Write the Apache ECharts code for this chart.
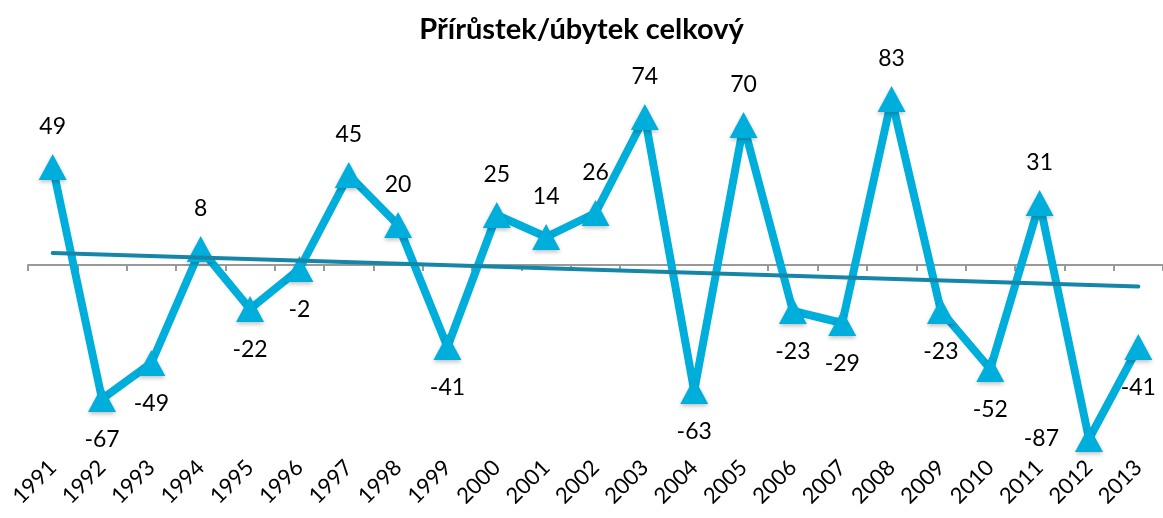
<!DOCTYPE html>
<html>
<head>
<meta charset="utf-8">
<script src="https://cdn.jsdelivr.net/npm/echarts@6.0.0/dist/echarts.min.js"></script>
<style>
  html, body { margin: 0; padding: 0; background: #fff; }
  #chart { width: 1163px; height: 518px; }
</style>
</head>
<body>
<div id="chart"></div>
<script>
// roky a hodnoty přírůstku/úbytku
const years = ['1991', '1992', '1993', '1994', '1995', '1996', '1997', '1998', '1999', '2000',
  '2001', '2002', '2003', '2004', '2005', '2006', '2007', '2008', '2009', '2010',
  '2011', '2012', '2013'];
const values = [49, -67, -49, 8, -22, -2, 45, 20, -41, 25, 14, 26, 74, -63, 70, -23, -29, 83, -23, -52, 31, -87, -41];
// konce lineárního trendu
const trendEnds = [6.0, -10.7];

const trend = years.map((y, i) => i === 0 ? trendEnds[0] : (i === years.length - 1 ? trendEnds[1] : null));

const font = 'Lato, "Open Sans", "Liberation Sans", sans-serif';

const chart = echarts.init(document.getElementById('chart'));
chart.setOption({
  animation: false,
  title: {
    text: 'Přírůstek/úbytek celkový',
    left: 'center',
    top: 10,
    textStyle: { fontFamily: font, fontSize: 29, fontWeight: 'bold', color: '#000' }
  },
  grid: { left: 28, top: 65, width: 1138, height: 400 },
  xAxis: [
    {
      type: 'category',
      data: years,
      boundaryGap: true,
      axisLine: { onZero: true, lineStyle: { color: '#999', width: 2 } },
      axisTick: { show: true, length: 6, lineStyle: { color: '#999', width: 2 } },
      axisLabel: { show: false }
    },
    {
      type: 'category',
      data: years,
      position: 'bottom',
      offset: -5,
      boundaryGap: true,
      axisLine: { show: false, onZero: false },
      axisTick: { show: false },
      axisLabel: {
        interval: 0,
        rotate: 45,
        margin: 4,
        fontFamily: font,
        fontSize: 22,
        color: '#000'
      }
    }
  ],
  yAxis: {
    type: 'value',
    min: -100,
    max: 100,
    show: false,
    splitLine: { show: false }
  },
  series: [
    {
      type: 'line',
      z: 3,
      data: values.map((v, i) => ({
        value: v,
        label: { position: v < 0 ? (i === 21 ? 'left' : 'bottom') : 'top' }
      })),
      lineStyle: { color: '#00AEDB', width: 8 },
      itemStyle: {
        color: '#00AEDB',
        shadowColor: 'rgba(0,0,0,0.25)',
        shadowBlur: 4,
        shadowOffsetY: 2
      },
      symbol: 'triangle',
      symbolSize: [28, 26],
      label: {
        show: true,
        fontFamily: font,
        fontSize: 23,
        color: '#000',
        distance: 16,
        formatter: p => p.value
      }
    },
    {
      type: 'line',
      data: trend,
      connectNulls: true,
      z: 4,
      symbol: 'none',
      lineStyle: { color: '#1686A8', width: 4, cap: 'round' },
      silent: true
    }
  ]
});
</script>
</body>
</html>
